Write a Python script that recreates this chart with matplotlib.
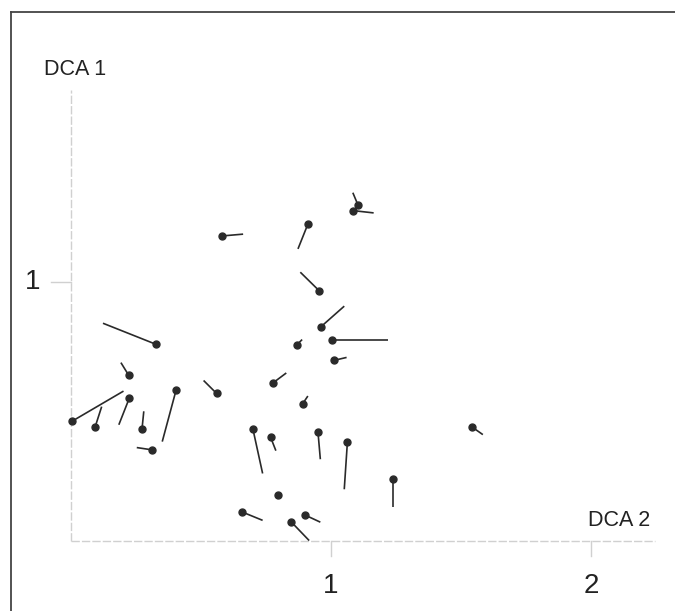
import matplotlib.pyplot as plt
from matplotlib.lines import Line2D

plt.rcParams['font.family'] = ['Liberation Sans', 'DejaVu Sans']

# site scores on DCA 2 (x) and DCA 1 (y), and where each shift vector ends
dca2_start = [0.003, 0.093, 0.224, 0.273, 0.313, 0.404, 0.222, 0.326, 0.560, 0.581,
              0.912, 1.104, 1.084, 0.954, 0.962, 1.003, 0.869, 1.013, 0.776, 0.891,
              0.700, 0.768, 0.950, 1.063, 1.240, 1.543, 0.798, 0.659, 0.901, 0.848]
dca1_start = [0.460, 0.439, 0.549, 0.429, 0.350, 0.580, 0.638, 0.758, 0.568, 1.176,
              1.224, 1.295, 1.274, 0.965, 0.826, 0.776, 0.756, 0.696, 0.608, 0.528,
              0.429, 0.398, 0.418, 0.379, 0.238, 0.438, 0.177, 0.110, 0.098, 0.071]
dca2_end = [0.202, 0.118, 0.184, 0.280, 0.253, 0.351, 0.192, 0.123, 0.510, 0.662,
            0.873, 1.084, 1.164, 0.882, 1.051, 1.220, 0.889, 1.060, 0.828, 0.911,
            0.737, 0.788, 0.959, 1.051, 1.240, 1.584, 0.791, 0.737, 0.959, 0.916]
dca1_end = [0.577, 0.517, 0.447, 0.499, 0.359, 0.382, 0.687, 0.839, 0.618, 1.183,
            1.126, 1.343, 1.265, 1.036, 0.905, 0.776, 0.776, 0.707, 0.647, 0.558,
            0.259, 0.347, 0.314, 0.198, 0.128, 0.409, 0.161, 0.078, 0.071, 0.000]

x_ticks = [1, 2]
y_ticks = [1]

fig = plt.figure(figsize=(6.75, 6.11), dpi=100)
ax = fig.add_axes([0, 0, 1, 1])
ax.set_xlim(-0.273, 2.323)
ax.set_ylim(-0.272, 2.087)
ax.axis('off')

# page frame (left and top edges only)
frame_col = '#444444'
fig.add_artist(Line2D([0.016, 0.016], [0, 0.980], color=frame_col, lw=1.3))
fig.add_artist(Line2D([0.016, 1.0], [0.980, 0.980], color=frame_col, lw=1.3))

# faint axes
axis_col = '#d0d0d0'
ax.plot([0, 0], [0, 1.74], color=axis_col, lw=1.0, ls=(0, (6, 1.5)))
ax.plot([0, 2.246], [0, 0], color=axis_col, lw=1.0, ls=(0, (6, 1.5)))
for t in y_ticks:
    ax.plot([-0.075, 0], [t, t], color=axis_col, lw=1.0)
    ax.text(-0.146, t, str(t), fontsize=20, ha='center', va='center', color='#222222')
for t in x_ticks:
    ax.plot([t, t], [0, -0.06], color=axis_col, lw=1.0)
    ax.text(t, -0.175, str(t), fontsize=20, ha='center', va='center', color='#222222')

ax.text(0.017, 1.82, 'DCA 1', fontsize=15.5, ha='center', va='center', color='#222222')
ax.text(2.11, 0.078, 'DCA 2', fontsize=15.5, ha='center', va='center', color='#222222')

# shift vectors with a dot at each site
for x0, y0, x1, y1 in zip(dca2_start, dca1_start, dca2_end, dca1_end):
    ax.plot([x0, x1], [y0, y1], color='#2a2a2a', lw=1.2, solid_capstyle='butt')
ax.plot(dca2_start, dca1_start, 'o', color='#2a2a2a', markersize=5, ls='none')

fig.savefig('out.png', dpi=100)
